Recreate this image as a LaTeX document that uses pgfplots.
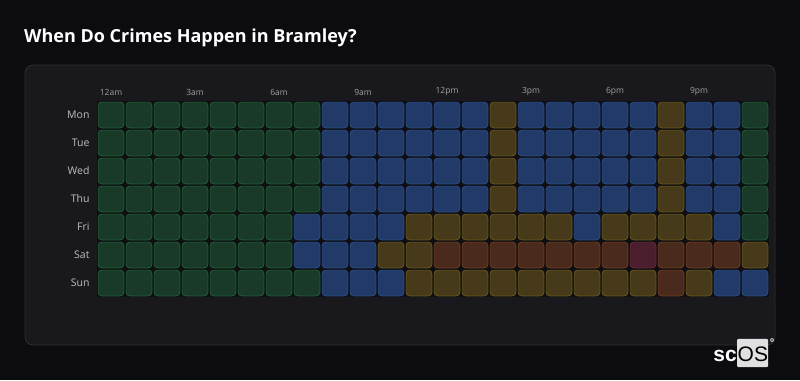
\documentclass[border=0pt]{standalone}
\usepackage{pgfplots}
\pgfplotsset{compat=1.18}
\usepackage{fontspec}
\setmainfont{Open Sans}
\newfontfamily\logofont{Liberation Sans}
\definecolor{pagebg}{HTML}{0C0B10}
\definecolor{card}{HTML}{19191D}
\definecolor{cardborder}{HTML}{2E2E33}
\definecolor{gapc}{HTML}{0F0F13}
\definecolor{gfill}{HTML}{193A28}\definecolor{gline}{HTML}{22623A}
\definecolor{bfill}{HTML}{213A68}\definecolor{bline}{HTML}{2C4E8C}
\definecolor{yfill}{HTML}{463A1A}\definecolor{yline}{HTML}{6E5A1E}
\definecolor{ofill}{HTML}{4A2A1C}\definecolor{oline}{HTML}{774022}
\definecolor{rfill}{HTML}{4A1E2C}\definecolor{rline}{HTML}{6A2A3A}
\definecolor{labc}{HTML}{BDBDC2}
\pgfdeclareplotmark{cell}{%
  \path[fill, draw, rounded corners=3.5pt] (-12.9pt,-12.9pt) rectangle (12.9pt,12.9pt);}
\begin{document}
\begin{tikzpicture}[x=1pt,y=1pt]
\fill[pagebg] (0,0) rectangle (800,380);
\draw[fill=card, draw=cardborder, line width=0.8pt, rounded corners=8pt] (25,35) rectangle (775,315);
\node[anchor=base west, inner sep=0pt, text=white, font=\fontsize{18}{20}\selectfont\bfseries] at (24,337) {When Do Crimes Happen in Bramley?};
\begin{axis}[
  at={(97pt,83pt)}, anchor=south west,
  scale only axis, width=672pt, height=196pt,
  xmin=-0.5, xmax=23.5, ymin=-0.5, ymax=6.5, y dir=reverse,
  axis background/.style={fill=gapc},
  axis line style={draw=none}, major tick length=0pt,
  xtick={0,3,6,9,12,15,18,21},
  xticklabels={12am,3am,6am,9am,12pm,3pm,6pm,9pm},
  xticklabel pos=upper,
  ytick={0,1,2,3,4,5,6},
  yticklabels={Mon,Tue,Wed,Thu,Fri,Sat,Sun},
  xticklabel style={text=labc!85!black, font=\fontsize{8.5}{10}\selectfont, yshift=2pt},
  yticklabel style={text=labc, font=\fontsize{10.5}{12}\selectfont, xshift=-4pt},
  clip=false,
]
% level 1: green
\addplot[only marks, mark=cell, mark options={fill=gfill, draw=gline, line width=0.7pt}] coordinates {
(0,0)(1,0)(2,0)(3,0)(4,0)(5,0)(6,0)(7,0)(23,0)
(0,1)(1,1)(2,1)(3,1)(4,1)(5,1)(6,1)(7,1)(23,1)
(0,2)(1,2)(2,2)(3,2)(4,2)(5,2)(6,2)(7,2)(23,2)
(0,3)(1,3)(2,3)(3,3)(4,3)(5,3)(6,3)(7,3)(23,3)
(0,4)(1,4)(2,4)(3,4)(4,4)(5,4)(6,4)(23,4)
(0,5)(1,5)(2,5)(3,5)(4,5)(5,5)(6,5)
(0,6)(1,6)(2,6)(3,6)(4,6)(5,6)(6,6)(7,6)
};
% level 2: blue
\addplot[only marks, mark=cell, mark options={fill=bfill, draw=bline, line width=0.7pt}] coordinates {
(8,0)(9,0)(10,0)(11,0)(12,0)(13,0)(15,0)(16,0)(17,0)(18,0)(19,0)(21,0)(22,0)
(8,1)(9,1)(10,1)(11,1)(12,1)(13,1)(15,1)(16,1)(17,1)(18,1)(19,1)(21,1)(22,1)
(8,2)(9,2)(10,2)(11,2)(12,2)(13,2)(15,2)(16,2)(17,2)(18,2)(19,2)(21,2)(22,2)
(8,3)(9,3)(10,3)(11,3)(12,3)(13,3)(15,3)(16,3)(17,3)(18,3)(19,3)(21,3)(22,3)
(7,4)(8,4)(9,4)(10,4)(17,4)(22,4)
(7,5)(8,5)(9,5)
(8,6)(9,6)(10,6)(22,6)(23,6)
};
% level 3: yellow
\addplot[only marks, mark=cell, mark options={fill=yfill, draw=yline, line width=0.7pt}] coordinates {
(14,0)(20,0)(14,1)(20,1)(14,2)(20,2)(14,3)(20,3)
(11,4)(12,4)(13,4)(14,4)(15,4)(16,4)(18,4)(19,4)(20,4)(21,4)
(10,5)(11,5)(23,5)
(11,6)(12,6)(13,6)(14,6)(15,6)(16,6)(17,6)(18,6)(19,6)(21,6)
};
% level 4: orange
\addplot[only marks, mark=cell, mark options={fill=ofill, draw=oline, line width=0.7pt}] coordinates {
(12,5)(13,5)(14,5)(15,5)(16,5)(17,5)(18,5)(20,5)(21,5)(22,5)
(20,6)
};
% level 5: red
\addplot[only marks, mark=cell, mark options={fill=rfill, draw=rline, line width=0.7pt}] coordinates {
(19,5)
};
\end{axis}
\fill[rounded corners=1pt, fill=white!88!black] (737,13) rectangle (768,41);
\node[anchor=base east, inner sep=0pt, text=white, font=\logofont\bfseries\fontsize{21}{22}\selectfont] at (737,18) {sc};
\node[anchor=base west, inner sep=0pt, text=black, font=\logofont\fontsize{21}{22}\selectfont] at (737.5,18) {OS};
\node[circle, fill=white!70!black, inner sep=0pt, minimum size=4pt, font=\logofont\fontsize{3}{3}\selectfont] at (772,40) {R};
\end{tikzpicture}
\end{document}
